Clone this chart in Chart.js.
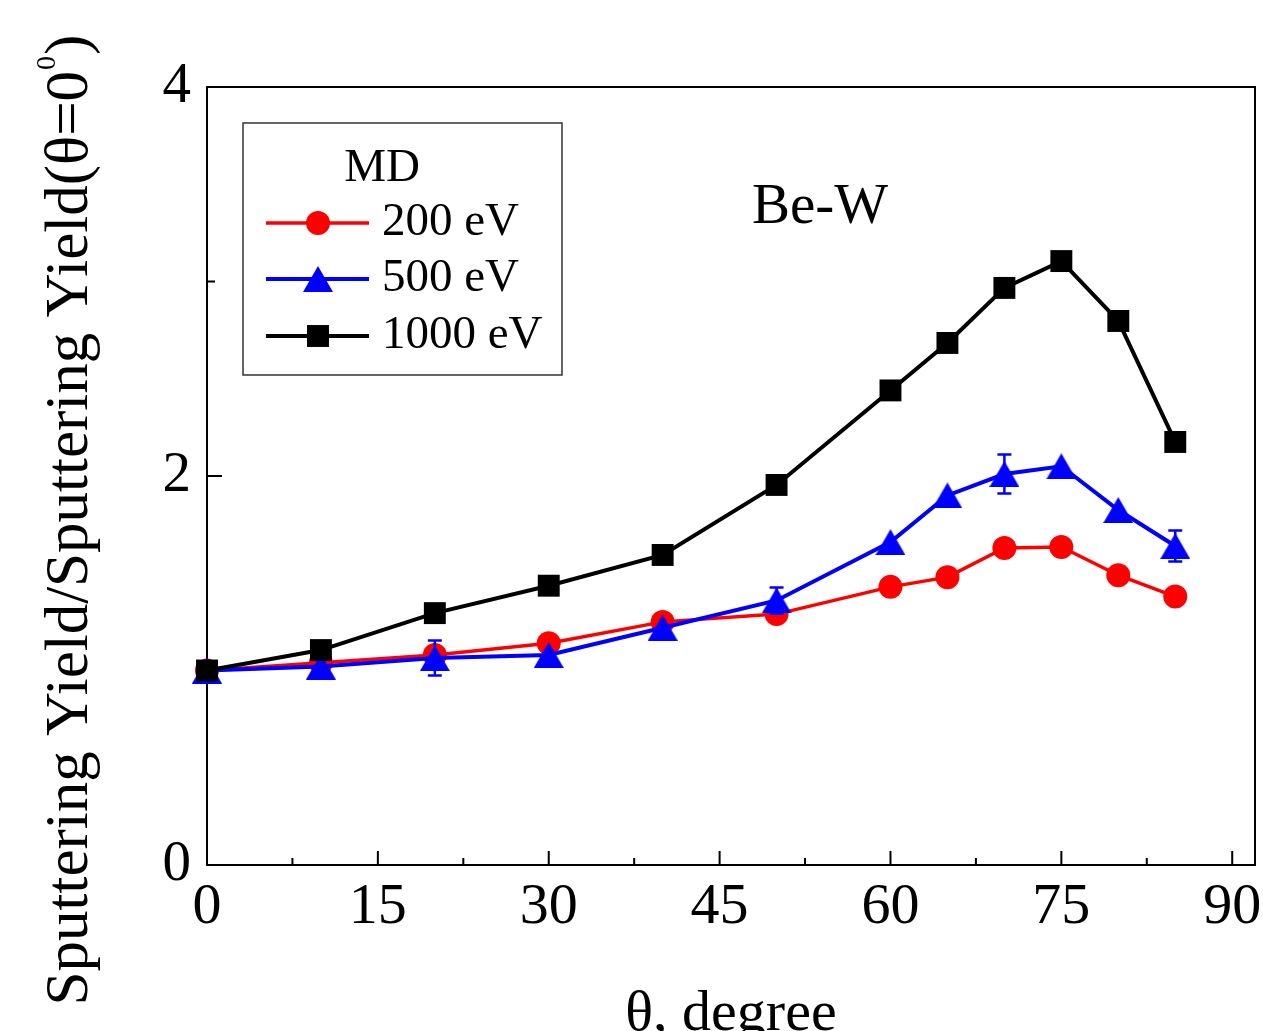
<!DOCTYPE html>
<html><head><meta charset="utf-8">
<script src="https://cdn.jsdelivr.net/npm/chart.js@4/dist/chart.umd.min.js"></script>
<style>html,body{margin:0;padding:0;background:#fff;overflow:hidden}#wrap{width:1263px;height:1031px;position:relative}</style>
</head><body><div id="wrap"><canvas id="c" width="1263" height="1031"></canvas></div>
<script>
// ---- data ----
const angles = [0, 10, 20, 30, 40, 50, 60, 65, 70, 75, 80, 85];
const y200  = [1.00, 1.04, 1.08, 1.14, 1.25, 1.29, 1.43, 1.48, 1.63, 1.635, 1.49, 1.38];
const y500  = [1.00, 1.02, 1.064, 1.08, 1.22, 1.36, 1.66, 1.90, 2.01, 2.05, 1.825, 1.64];
const y1000 = [1.00, 1.105, 1.295, 1.436, 1.594, 1.954, 2.44, 2.684, 2.967, 3.105, 2.797, 2.175];
const err500 = [0, 0, 0.09, 0, 0, 0.067, 0, 0, 0.10, 0, 0, 0.08];
const xTicks = [0, 15, 30, 45, 60, 75, 90];
const yTicks = [0, 2, 4];
const yMinorTicks = [1, 3];
const seriesLabels = ['200 eV', '500 eV', '1000 eV'];
const legendTitle = 'MD';
const annotationText = 'Be-W';
const xTitle = 'θ, degree';
const yTitleMain = 'Sputtering Yield/Sputtering Yield(θ=0';
const yTitleSup = '0';
const yTitleEnd = ')';

const SERIF = "'Liberation Serif', 'Times New Roman', serif";
const RED = '#ff0000', BLUE = '#0000ff', BLACK = '#000000';

function triCanvas(w, h, color) {
  const c = document.createElement('canvas');
  c.width = w; c.height = h;
  const g = c.getContext('2d');
  g.fillStyle = color;
  g.beginPath(); g.moveTo(w / 2, 0); g.lineTo(w, h); g.lineTo(0, h); g.closePath(); g.fill();
  return c;
}
const triMarker = triCanvas(30, 26, BLUE);

const pts = arr => angles.map((a, i) => ({ x: a, y: arr[i] }));

const decor = {
  id: 'decor',
  afterDatasetsDraw(chart) {
    const { ctx, scales: { x, y } } = chart;
    ctx.save();
    ctx.strokeStyle = BLUE; ctx.lineWidth = 2.5;
    angles.forEach((ang, i) => {
      if (!err500[i]) return;
      const px = x.getPixelForValue(ang);
      const t = y.getPixelForValue(y500[i] + err500[i]);
      const b = y.getPixelForValue(y500[i] - err500[i]);
      ctx.beginPath();
      ctx.moveTo(px, t); ctx.lineTo(px, b);
      ctx.moveTo(px - 7, t); ctx.lineTo(px + 7, t);
      ctx.moveTo(px - 7, b); ctx.lineTo(px + 7, b);
      ctx.stroke();
    });
    ctx.restore();
  },
  afterDraw(chart) {
    const { ctx, chartArea: a, scales: { x, y } } = chart;
    ctx.save();
    // frame top/right
    ctx.strokeStyle = '#000'; ctx.lineWidth = 2;
    ctx.beginPath();
    ctx.moveTo(a.left, a.top); ctx.lineTo(a.right, a.top); ctx.lineTo(a.right, a.bottom);
    ctx.stroke();
    // x ticks (inward)
    ctx.beginPath();
    xTicks.forEach((v, i) => {
      const px = x.getPixelForValue(v);
      ctx.moveTo(px, a.bottom); ctx.lineTo(px, a.bottom - 14);
      if (i < xTicks.length - 1) {
        const pm = x.getPixelForValue((v + xTicks[i + 1]) / 2);
        ctx.moveTo(pm, a.bottom); ctx.lineTo(pm, a.bottom - 7);
      }
    });
    yTicks.forEach(v => { const py = y.getPixelForValue(v); ctx.moveTo(a.left, py); ctx.lineTo(a.left + 15, py); });
    yMinorTicks.forEach(v => { const py = y.getPixelForValue(v); ctx.moveTo(a.left, py); ctx.lineTo(a.left + 8, py); });
    ctx.stroke();

    // legend
    const L = { x: 243, y: 123, w: 319, h: 252 };
    ctx.strokeStyle = '#333'; ctx.lineWidth = 1.5;
    ctx.strokeRect(L.x, L.y, L.w, L.h);
    ctx.fillStyle = '#000';
    ctx.font = '47px ' + SERIF;
    ctx.textAlign = 'center'; ctx.textBaseline = 'alphabetic';
    ctx.fillText(legendTitle, 382, 181);
    const order = [0, 1, 2];
    const rowsY = [223, 279, 336];
    order.forEach((di, r) => {
      const ds = chart.data.datasets[di];
      const ry = rowsY[r];
      ctx.strokeStyle = ds.borderColor; ctx.lineWidth = ds.borderWidth;
      ctx.beginPath(); ctx.moveTo(266, ry); ctx.lineTo(369, ry); ctx.stroke();
      ctx.fillStyle = ds.backgroundColor;
      if (ds.pointStyle === 'circle') {
        ctx.beginPath(); ctx.arc(318, ry, ds.pointRadius, 0, Math.PI * 2); ctx.fill();
      } else if (ds.pointStyle === 'rect') {
        const s = ds.pointRadius * Math.SQRT1_2;
        ctx.fillRect(318 - s, ry - s, 2 * s, 2 * s);
      } else {
        const im = ds.pointStyle;
        ctx.drawImage(im, 318 - im.width / 2, ry - im.height / 2);
      }
      ctx.fillStyle = '#000';
      ctx.font = '47px ' + SERIF;
      ctx.textAlign = 'left'; ctx.textBaseline = 'middle';
      ctx.fillText(ds.label, 382, ry);
    });

    // annotation
    ctx.fillStyle = '#000';
    ctx.font = '57px ' + SERIF;
    ctx.textAlign = 'left'; ctx.textBaseline = 'alphabetic';
    ctx.fillText(annotationText, 752, 223);

    // x title
    ctx.font = '58px ' + SERIF;
    ctx.textAlign = 'center';
    ctx.fillText(xTitle, (a.left + a.right) / 2, 1030);

    // y title (rotated)
    ctx.save();
    const fMain = '61px ' + SERIF, fSup = '28px ' + SERIF;
    ctx.font = fMain; const w1 = ctx.measureText(yTitleMain).width;
    const w3 = ctx.measureText(yTitleEnd).width;
    ctx.font = fSup; const w2 = ctx.measureText(yTitleSup).width;
    const total = w1 + w2 + 2 + w3;
    ctx.translate(87, 520 + total / 2);
    ctx.rotate(-Math.PI / 2);
    ctx.textAlign = 'left'; ctx.textBaseline = 'alphabetic';
    ctx.font = fMain; ctx.fillText(yTitleMain, 0, 0);
    ctx.font = fSup; ctx.fillText(yTitleSup, w1 + 1, -32);
    ctx.font = fMain; ctx.fillText(yTitleEnd, w1 + w2 + 2, 0);
    ctx.restore();

    ctx.restore();
  }
};

new Chart(document.getElementById('c'), {
  type: 'line',
  data: {
    datasets: [
      { label: seriesLabels[0], data: pts(y200), borderColor: RED, backgroundColor: RED,
        pointStyle: 'circle', pointRadius: 12, pointBorderWidth: 0, borderWidth: 3.5, order: 3, clip: false },
      { label: seriesLabels[1], data: pts(y500), borderColor: BLUE, backgroundColor: BLUE,
        pointStyle: triMarker, pointRadius: 15, pointBorderWidth: 0, borderWidth: 4, order: 2, clip: false },
      { label: seriesLabels[2], data: pts(y1000), borderColor: BLACK, backgroundColor: BLACK,
        pointStyle: 'rect', pointRadius: 15.5, pointBorderWidth: 0, borderWidth: 4, order: 1, clip: false }
    ]
  },
  options: {
    responsive: false,
    animation: false,
    events: [],
    layout: { autoPadding: false, padding: { top: 87, right: 8, left: 0, bottom: 0 } },
    plugins: { legend: { display: false }, tooltip: { enabled: false } },
    elements: { line: { tension: 0 } },
    scales: {
      x: {
        type: 'linear', min: 0, max: 92,
        afterBuildTicks: s => { s.ticks = xTicks.map(v => ({ value: v })); },
        ticks: { font: { family: SERIF, size: 58 }, color: '#000', padding: 8, maxRotation: 0, autoSkip: false },
        grid: { display: false, drawTicks: false },
        border: { display: true, color: '#000', width: 2 },
        afterFit: s => { s.height = 166; s.paddingLeft = 0; s.paddingRight = 0; }
      },
      y: {
        type: 'linear', min: 0, max: 4,
        afterBuildTicks: s => { s.ticks = yTicks.map(v => ({ value: v })); },
        ticks: { font: { family: SERIF, size: 57 }, color: '#000', padding: 16 },
        grid: { display: false, drawTicks: false },
        border: { display: true, color: '#000', width: 2 },
        afterFit: s => { s.width = 207; s.paddingTop = 0; s.paddingBottom = 0; }
      }
    }
  },
  plugins: [decor]
});
</script></body></html>
